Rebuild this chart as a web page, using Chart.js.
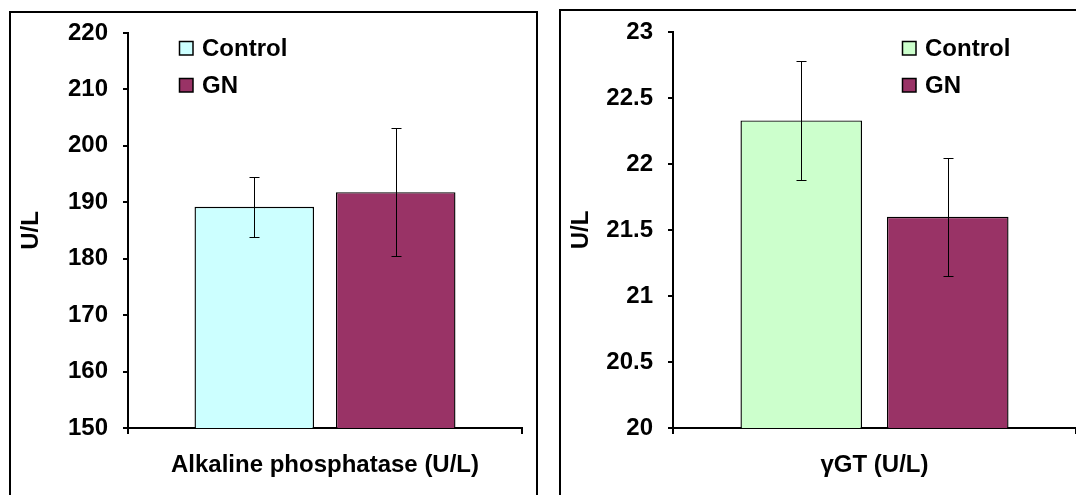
<!DOCTYPE html>
<html>
<head>
<meta charset="utf-8">
<script src="https://cdn.jsdelivr.net/npm/chart.js@4/dist/chart.umd.min.js"></script>
<style>
  html, body { margin: 0; padding: 0; background: #fff; width: 1076px; height: 495px; overflow: hidden; }
  .panel { position: absolute; box-sizing: border-box; border: 2px solid #000; pointer-events: none; }
  canvas { position: absolute; top: 0; }
</style>
</head>
<body>
<div class="panel" style="left:9px; top:11px; width:529px; height:600px;"></div>
<div class="panel" style="left:559px; top:9px; width:600px; height:600px;"></div>
<canvas id="c1" width="540" height="495" style="left:0px"></canvas>
<canvas id="c2" width="536" height="495" style="left:540px"></canvas>
<script>
// ---- data ----
const seriesNames = ['Control', 'GN'];

const alpCategories = ['Alkaline phosphatase (U/L)'];
const alpControl = [189.2];
const alpGN = [191.8];
const alpControlErr = [5.3];
const alpGNErr = [11.4];
const alpTickLabels = ['150', '160', '170', '180', '190', '200', '210', '220'];

const ggtCategories = ['γGT (U/L)'];
const ggtControl = [22.33];
const ggtGN = [21.6];
const ggtControlErr = [0.45];
const ggtGNErr = [0.445];
const ggtTickLabels = ['20', '20.5', '21', '21.5', '22', '22.5', '23'];

const yTitle = 'U/L';

// ---- styling ----
const FONT = '"Liberation Sans", Arial, sans-serif';

const errorBarPlugin = {
  id: 'errorBars',
  afterDatasetsDraw(chart, args, opts) {
    const ctx = chart.ctx;
    const yScale = chart.scales.y;
    ctx.save();
    ctx.strokeStyle = '#000';
    ctx.lineWidth = 1;
    chart.data.datasets.forEach((ds, i) => {
      const meta = chart.getDatasetMeta(i);
      meta.data.forEach((bar, j) => {
        const v = ds.data[j];
        const e = ds.errors[j];
        const x = Math.round(bar.x) + 0.5;
        const yt = Math.round(yScale.getPixelForValue(v + e)) + 0.5;
        const yb = Math.round(yScale.getPixelForValue(v - e)) + 0.5;
        const hw = 5;
        ctx.beginPath();
        ctx.moveTo(x, yt); ctx.lineTo(x, yb);
        ctx.moveTo(x - hw, yt); ctx.lineTo(x + hw, yt);
        ctx.moveTo(x - hw, yb); ctx.lineTo(x + hw, yb);
        ctx.stroke();
      });
    });
    ctx.restore();
  }
};

const legendPlugin = {
  id: 'boxLegend',
  afterDraw(chart, args, opts) {
    const ctx = chart.ctx;
    ctx.save();
    ctx.font = 'bold 24px ' + FONT;
    ctx.textBaseline = 'middle';
    ctx.textAlign = 'left';
    chart.data.datasets.forEach((ds, i) => {
      const bx = opts.x, by = opts.y + i * opts.rowGap;
      ctx.fillStyle = ds.backgroundColor;
      ctx.fillRect(bx, by, 14, 14);
      ctx.strokeStyle = '#000';
      ctx.lineWidth = 1.5;
      ctx.strokeRect(bx + 0.5, by + 0.5, 13.5, 13.5);
      ctx.fillStyle = '#000';
      ctx.fillText(ds.label, bx + 23, by + 8);
    });
    ctx.restore();
  }
};

function makeChart(id, cfg) {
  return new Chart(document.getElementById(id), {
    type: 'bar',
    data: {
      labels: cfg.categories,
      datasets: [
        { label: seriesNames[0], data: cfg.control, errors: cfg.controlErr,
          backgroundColor: cfg.controlColor, borderColor: '#000', borderWidth: 1.4,
          categoryPercentage: cfg.cp, barPercentage: cfg.bp },
        { label: seriesNames[1], data: cfg.gn, errors: cfg.gnErr,
          backgroundColor: '#993366', borderColor: '#000', borderWidth: 1.4,
          categoryPercentage: cfg.cp, barPercentage: cfg.bp }
      ]
    },
    options: {
      responsive: false,
      animation: false,
      layout: { padding: { left: 0, top: cfg.padTop, right: cfg.padRight, bottom: 0 } },
      plugins: {
        legend: { display: false },
        tooltip: { enabled: false },
        boxLegend: { x: cfg.legendX, y: cfg.legendY, rowGap: 37 }
      },
      scales: {
        x: {
          offset: true,
          grid: { offset: true, drawOnChartArea: false, drawTicks: true, tickLength: 6, color: '#000', lineWidth: 2 },
          border: { display: true, color: '#000', width: 2 },
          ticks: { display: false },
          title: { display: true, text: cfg.categories[0], color: '#000',
                   font: { family: FONT, size: 24, weight: 'bold' }, padding: { top: 0, bottom: 15 } },
          afterFit(scale) { scale.height = 495 - cfg.bottom; }
        },
        y: {
          min: cfg.min, max: cfg.max,
          grid: { drawOnChartArea: false, drawTicks: true, tickLength: 5, color: '#000', lineWidth: 2 },
          border: { display: true, color: '#000', width: 2 },
          ticks: { stepSize: cfg.step, padding: 15, color: '#000',
                   font: { family: FONT, size: 24, weight: 'bold' },
                   callback: (v, i) => cfg.tickLabels[i] },
          title: { display: true, text: yTitle, color: '#000',
                   font: { family: FONT, size: 24, weight: 'bold' }, padding: { top: cfg.yTitlePad, bottom: 0 } },
          afterFit(scale) { scale.width = cfg.axisX; }
        }
      }
    },
    plugins: [errorBarPlugin, legendPlugin]
  });
}

makeChart('c1', {
  categories: alpCategories, control: alpControl, gn: alpGN,
  controlErr: alpControlErr, gnErr: alpGNErr, controlColor: '#CCFFFF',
  min: 150, max: 220, step: 10, tickLabels: alpTickLabels,
  axisX: 128, padTop: 33, padRight: 18, bottom: 428,
  cp: 0.718, bp: 0.845, legendX: 179, legendY: 41, yTitlePad: 17
});

makeChart('c2', {
  categories: ggtCategories, control: ggtControl, gn: ggtGN,
  controlErr: ggtControlErr, gnErr: ggtGNErr, controlColor: '#CCFFCC',
  min: 20, max: 23, step: 0.5, tickLabels: ggtTickLabels,
  axisX: 133, padTop: 32, padRight: 0, bottom: 428,
  cp: 0.727, bp: 0.83, legendX: 362, legendY: 41, yTitlePad: 27
});
</script>
</body>
</html>
